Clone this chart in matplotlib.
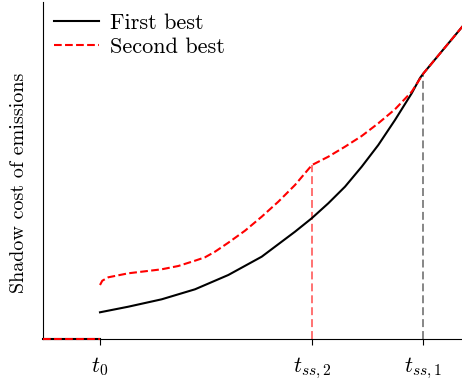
import matplotlib
matplotlib.use("Agg")
import matplotlib.pyplot as plt

plt.rcParams['font.family'] = ['cmr10', 'DejaVu Serif']
plt.rcParams['mathtext.fontset'] = 'cm'
plt.rcParams['axes.unicode_minus'] = False
plt.rcParams['axes.formatter.use_mathtext'] = True

# Time markers (arbitrary time units)
t0 = 0.0
t_ss2 = 21.2
t_ss1 = 32.35
x_min, x_max = -5.7, 36.2
tick_positions = [t0, t_ss2, t_ss1]
tick_labels = [r'$t_0$', r'$t_{ss,2}$', r'$t_{ss,1}$']

# First best (black) shadow cost
first_x = [0.0, 2.83, 6.17, 9.5, 12.83, 16.17, 19.5, 21.17, 22.83, 24.5,
           26.17, 27.83, 29.5, 31.17, 32.0, 32.35, 36.6]
first_y = [2.67, 3.23, 3.97, 4.97, 6.4, 8.23, 10.73, 12.07, 13.57, 15.23,
           17.23, 19.4, 21.9, 24.57, 26.1, 26.57, 31.68]

# Second best (red) shadow cost
second_x = [0.0, 0.23, 0.83, 2.83, 4.5, 6.17, 7.83, 9.5, 10.5, 11.5, 12.83,
            14.5, 16.17, 17.83, 19.5, 20.83, 21.2, 22.83, 24.5, 26.17, 27.83,
            29.5, 31.17, 32.35, 36.6]
second_y = [5.4, 5.83, 6.17, 6.57, 6.77, 6.97, 7.3, 7.83, 8.17, 8.73, 9.63,
            10.83, 12.23, 13.73, 15.4, 16.97, 17.4, 18.23, 19.23, 20.3, 21.57,
            22.97, 24.73, 26.57, 31.68]

fig = plt.figure(figsize=(4.62, 3.86), dpi=100)
ax = fig.add_axes([43/462, 1-339/386, 1-43/462, 337/386])

# Zero before t0
ax.plot([x_min, t0], [0, 0], color='black', lw=1.5, clip_on=False, zorder=3)
ax.plot([x_min, t0], [0, 0], color='red', lw=1.5, ls='--', clip_on=False, zorder=4)

ax.plot(first_x, first_y, color='black', lw=1.5, label='First best', zorder=3)
ax.plot(second_x, second_y, color='red', lw=1.5, ls='--', label='Second best', zorder=4)

# Vertical markers
ax.plot([t_ss2, t_ss2], [0, second_y[second_x.index(t_ss2)]], color='red', alpha=0.7,
        lw=1.1, dashes=(5.2, 2.6), zorder=2)
ax.plot([t_ss1, t_ss1], [0, first_y[first_x.index(t_ss1)]], color='black', alpha=0.6,
        lw=1.1, dashes=(5.2, 2.6), zorder=2)

ax.set_xlim(x_min, x_max)
ax.set_ylim(0, 33.7)
ax.set_xticks(tick_positions)
ax.set_xticklabels(tick_labels, fontsize=16)
ax.tick_params(axis='x', length=4, pad=8)
ax.set_yticks([])
ax.spines['top'].set_visible(False)
ax.spines['right'].set_visible(False)
ax.set_ylabel('Shadow cost of emissions', fontsize=14.5)
ax.yaxis.set_label_coords(-0.035, 0.463)

ax.legend(loc='upper left', frameon=False, fontsize=16, handlelength=2.0,
          handletextpad=0.5, borderaxespad=0.1, borderpad=0.4, labelspacing=0.2)

fig.savefig('out.png', dpi=100)
